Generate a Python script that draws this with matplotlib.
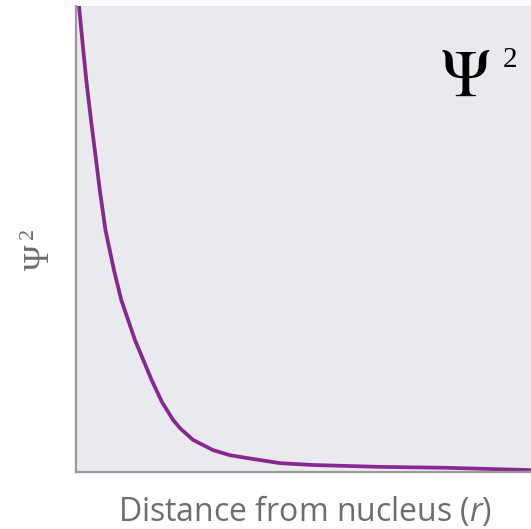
import matplotlib.pyplot as plt

# probability density of a 1s electron vs. distance from the nucleus
r = [0.066, 0.138, 0.226, 0.330, 0.440, 0.523, 0.648, 0.835, 0.996, 1.297,
     1.664, 1.890, 2.132, 2.286, 2.571, 3.011, 3.385, 3.758, 4.484, 5.209,
     6.681, 8.154, 10.0]
psi_sq = [1.0, 0.927, 0.841, 0.755, 0.670, 0.605, 0.519, 0.433, 0.369, 0.283,
          0.197, 0.150, 0.112, 0.094, 0.069, 0.047, 0.036, 0.030, 0.019, 0.015,
          0.011, 0.009, 0.004]

CURVE = "#86288f"
PANEL = "#e8eaed"
SPINE = "#9a9a9a"
LABEL = "#6e6e6e"

W, H = 531, 529
fig = plt.figure(figsize=(W / 100, H / 100), dpi=100)
ax = fig.add_axes([76 / W, 57 / H, (W - 76) / W, 466 / H])
ax.set_facecolor(PANEL)

ax.plot(r, psi_sq, color=CURVE, linewidth=2.7, solid_joinstyle="round",
        solid_capstyle="round")
ax.set_xlim(0, 10)
ax.set_ylim(0, 1)
ax.set_xticks([])
ax.set_yticks([])
for side in ("top", "right"):
    ax.spines[side].set_visible(False)
for side in ("left", "bottom"):
    ax.spines[side].set_color(SPINE)
    ax.spines[side].set_linewidth(1.6)

plt.rcParams["mathtext.fontset"] = "custom"
plt.rcParams["mathtext.it"] = "Open Sans:italic"
plt.rcParams["mathtext.rm"] = "Open Sans"

fig.text(305 / W, 1 - 511 / H, r"Distance from nucleus ($\mathit{r}$)",
         ha="center", va="center", color=LABEL, fontsize=23,
         family="Open Sans")

# axis label Ψ² rotated
fig.text(40 / W, 1 - 257 / H, "Ψ", rotation=90, ha="center", va="center",
         color=LABEL, fontsize=25, family="Liberation Serif")
fig.text(29 / W, 1 - 233 / H, "2", rotation=90, ha="center", va="center",
         color=LABEL, fontsize=16, family="Liberation Serif")

# big Ψ² in the corner of the panel
fig.text(465 / W, 1 - 77 / H, r"$\Psi$", ha="center", va="center",
         color="black", fontsize=48, math_fontfamily="stix")
fig.text(510 / W, 1 - 60 / H, "2", ha="center", va="center",
         color="black", fontsize=21, family="Liberation Serif")

fig.savefig("out.png", dpi=100)
